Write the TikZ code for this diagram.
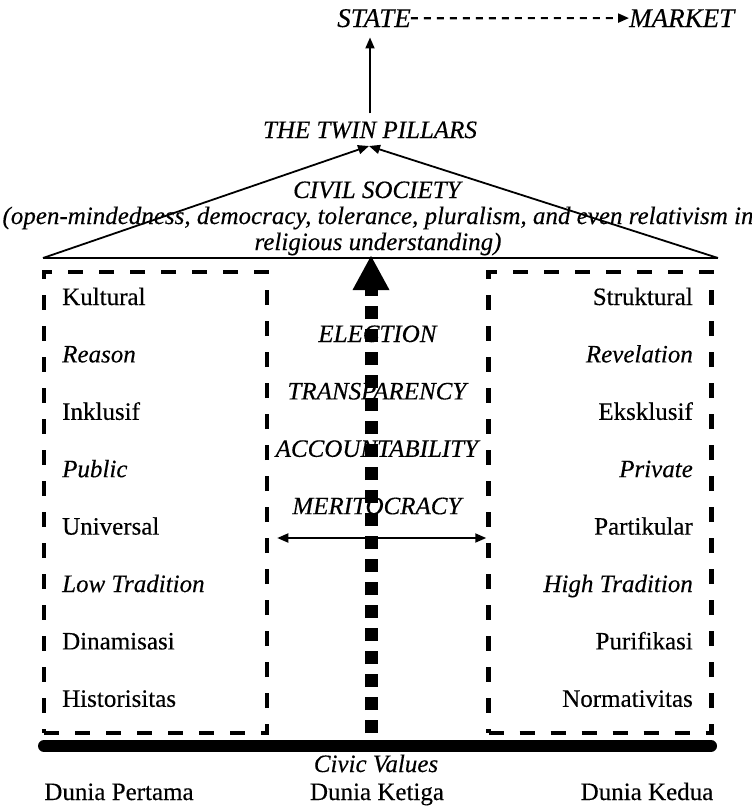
\documentclass[tikz,border=0pt]{standalone}
\usepackage{fontspec}
\setmainfont{Liberation Serif}[FakeBold=0.3]
\usetikzlibrary{arrows.meta}
\tikzset{word/.style={font=\fontsize{25}{26}\selectfont,inner sep=0,anchor=base},
    bigword/.style={word,font=\fontsize{27}{28}\selectfont},
    link/.style={line width=1.8pt},
    dashlink/.style={line width=2.2pt,dash pattern=on 7pt off 6pt},
    roof/.style={line width=1.3pt},
    pillarbox/.style={draw,line width=4.5pt,dash pattern=on 15pt off 16pt,minimum width=223pt,minimum height=461pt},
    thickdots/.style={line width=13pt,dash pattern=on 13pt off 10pt,-{Triangle[length=34pt,width=37pt,line width=0pt]}},
    ground/.style={line width=12pt,line cap=round},
    >={Triangle[length=11pt,width=9pt]}
}

\begin{document}
\begin{tikzpicture}[x=1pt,y=-1pt]
\useasboundingbox (0,0) rectangle (752,807);

% state and market

\node (state) [bigword] at (374,27) {\textit{STATE}};
\node (market) [bigword,anchor=base west] at (629,27) {\textit{MARKET}};
\draw [->,dashlink] (state.east) -- (market.west);

\node (pillars) [word] at (370,138) {\textit{THE TWIN PILLARS}};
\draw [->,link,shorten <=8pt,shorten >=10pt] (pillars.north) -- (pillars.north |- state.south);

% roof

\coordinate (apex) at (369,146);
\coordinate (eaveL) at (43,258);
\coordinate (eaveR) at (718,258);

\draw [roof] (eaveL) -- (eaveR);
\draw [->,link] (eaveL) -- (apex);
\draw [->,link] (eaveR) -- (apex);

\node (civil) [word] at (378,198) {\textit{CIVIL SOCIETY}};
\node (civil2) [word] at (378,224) {\textit{(open-mindedness, democracy, tolerance, pluralism, and even relativism in}};
\node (civil3) [word] at (378,250) {\textit{religious understanding)}};

% the two pillars

\node (lbox) [pillarbox] at (155.5,502.5) {};
\node (rbox) [pillarbox] at (600,502.5) {};

\foreach \txt/\shp [count=\i from 0] in {Kultural/up,Reason/it,Inklusif/up,Public/it,Universal/up,Low Tradition/it,Dinamisasi/up,Historisitas/up}
    \node (left\i) [word,anchor=base west] at (62,305+57.4*\i) {\csname text\shp\endcsname{\txt}};

\foreach \txt/\shp [count=\i from 0] in {Struktural/up,Revelation/it,Eksklusif/up,Private/it,Partikular/up,High Tradition/it,Purifikasi/up,Normativitas/up}
    \node (right\i) [word,anchor=base east] at (693,305+57.4*\i) {\csname text\shp\endcsname{\txt}};

% middle way

\coordinate (foot) at (371,733);
\coordinate (tip) at (371,256);
\draw [thickdots] (foot) -- (tip);

\foreach \txt [count=\i from 0] in {ELECTION,TRANSPARENCY,ACCOUNTABILITY,MERITOCRACY}
    \node (mid\i) [word] at (378,342+57.4*\i) {\textit{\txt}};

\coordinate (span) at (378,538);
\draw [<->,link,shorten <=8pt] (lbox.east |- span) -- (rbox.west |- span);

% ground

\coordinate (groundL) at (44,746);
\coordinate (groundR) at (711,746);
\draw [ground] (groundL) -- (groundR);

\node (civic) [word] at (376,772) {\textit{Civic Values}};
\node (world1) [word] at (119,800) {Dunia Pertama};
\node (world3) [word] at (377,800) {Dunia Ketiga};
\node (world2) [word] at (647,800) {Dunia Kedua};

\end{tikzpicture}
\end{document}
